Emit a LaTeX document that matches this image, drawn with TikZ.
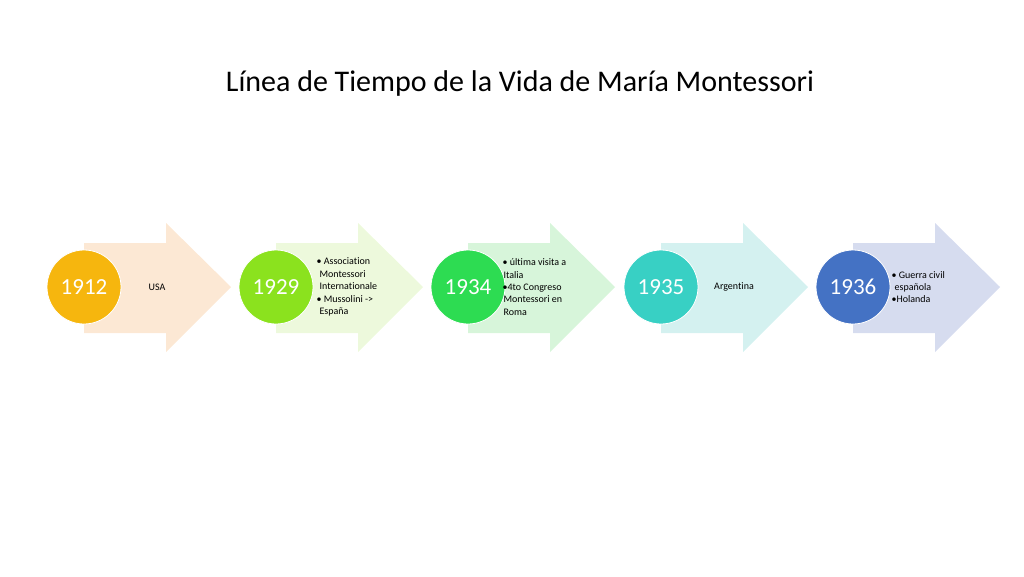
\documentclass[tikz,border=0pt]{standalone}
\usepackage{fontspec}
\setmainfont{Carlito}[Ligatures=NoCommon]
\usetikzlibrary{positioning}
\definecolor{yearA}{RGB}{246,182,14}
\definecolor{yearB}{RGB}{139,226,30}
\definecolor{yearC}{RGB}{45,220,82}
\definecolor{yearD}{RGB}{56,208,196}
\definecolor{yearE}{RGB}{68,114,196}
\definecolor{bandA}{RGB}{252,232,212}
\definecolor{bandB}{RGB}{237,249,220}
\definecolor{bandC}{RGB}{215,245,218}
\definecolor{bandD}{RGB}{212,241,240}
\definecolor{bandE}{RGB}{214,220,239}

\begin{document}
\begin{tikzpicture}[x=1pt, y=-1pt,
    year/.style={circle, draw=white, line width=0.8pt, minimum size=74pt, inner sep=0pt, text=white, font=\fontsize{23}{23}\selectfont},
    note/.style={align=left, inner sep=0pt, font=\fontsize{10}{12.4}\selectfont}]
  \useasboundingbox (0,0) rectangle (1024,576);

  \node[font=\fontsize{30}{36}\selectfont] (title) at (520,83) {Línea de Tiempo de la Vida de María Montessori};

  % arrows
  \fill[bandA] (84,243) -- (166,243) -- (166,223) -- (231,287) -- (166,352) -- (166,333) -- (84,333) -- cycle;
  \fill[bandB] (276,243) -- (358,243) -- (358,223) -- (423,287) -- (358,352) -- (358,333) -- (276,333) -- cycle;
  \fill[bandC] (468,243) -- (550,243) -- (550,223) -- (615,287) -- (550,352) -- (550,333) -- (468,333) -- cycle;
  \fill[bandD] (661,243) -- (743,243) -- (743,223) -- (808,287) -- (743,352) -- (743,333) -- (661,333) -- cycle;
  \fill[bandE] (853,243) -- (935,243) -- (935,223) -- (1000,287) -- (935,352) -- (935,333) -- (853,333) -- cycle;

  \node[year, fill=yearA] (y1912) at (84,287) {1912};
  \node[year, fill=yearB] (y1929) at (276,287) {1929};
  \node[year, fill=yearC] (y1934) at (468,287) {1934};
  \node[year, fill=yearD] (y1935) at (661,287) {1935};
  \node[year, fill=yearE] (y1936) at (853,287) {1936};

  \node[note] (usa) at (157,287) {USA};
  \node[note, right=3pt of y1929] (ami) {• Association\\\hspace*{3pt}Montessori\\\hspace*{3pt}Internationale\\• Mussolini ->\\\hspace*{3pt}España};
  \node[note, right=-3pt of y1934] (italia) {• última visita a\\\hspace*{1pt}Italia\\•4to Congreso\\\hspace*{1pt}Montessori en\\\hspace*{1pt}Roma};
  \node[note] (arg) at (734,287) {Argentina};
  \node[note, right=1pt of y1936] (guerra) {• Guerra civil\\\hspace*{3pt}española\\•Holanda};
\end{tikzpicture}
\end{document}
